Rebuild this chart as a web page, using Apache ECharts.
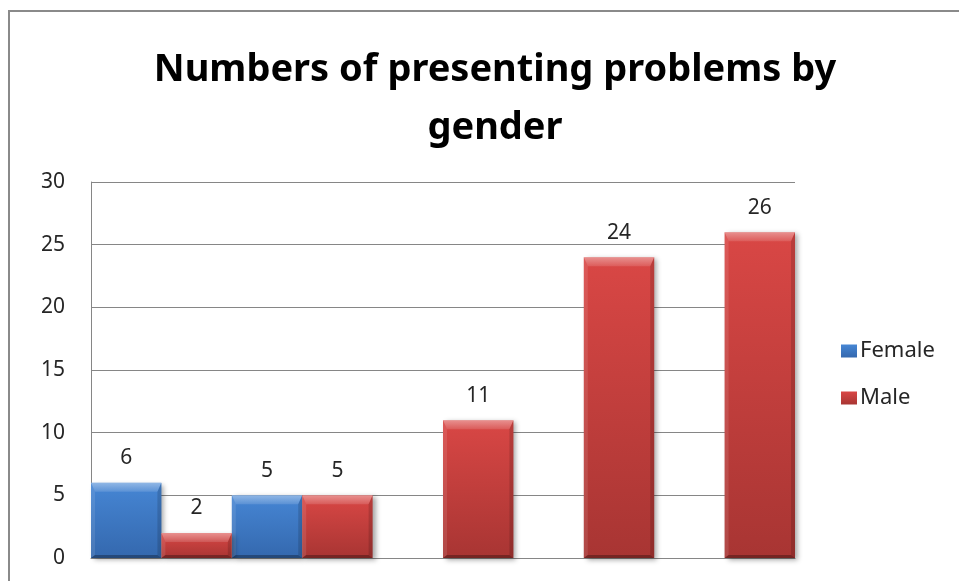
<!DOCTYPE html>
<html>
<head>
<meta charset="utf-8">
<title>Numbers of presenting problems by gender</title>
<script src="https://cdn.jsdelivr.net/npm/echarts@6/dist/echarts.min.js"></script>
<style>
  html, body { margin: 0; padding: 0; background: #ffffff; }
  #chart { width: 959px; height: 581px; }
</style>
</head>
<body>
<div id="chart"></div>
<script>
// Presenting problems, counted per group and split by gender
const categories = ['Group 1', 'Group 2', 'Group 3', 'Group 4', 'Group 5'];
const female = [6, 5, null, null, null];
const male = [2, 5, 11, 24, 26];
const seriesNames = ['Female', 'Male'];
const yTicks = { min: 0, max: 30, interval: 5 };

const FONT = '"Noto Sans", "DejaVu Sans", sans-serif';

function vGrad(top, bottom) {
  return new echarts.graphic.LinearGradient(0, 0, 0, 1, [
    { offset: 0, color: top },
    { offset: 1, color: bottom }
  ]);
}

const blue = vGrad('#4686d4', '#3468ae');
const red = vGrad('#d94745', '#a83533');

// Bevel overlay points: [category index, value, series index]
const bevelData = [];
[female, male].forEach(function (arr, s) {
  arr.forEach(function (v, i) {
    if (v != null) bevelData.push([i, v, s]);
  });
});

function renderBevel(params, api) {
  const idx = api.value(0);
  const v = api.value(1);
  const s = api.value(2);
  const top = api.coord([idx, v]);
  const base = api.coord([idx, 0]);
  const band = api.size([1, 0])[0];
  const x0 = top[0] - band / 2 + s * band / 2;
  const x1 = x0 + band / 2;
  const y0 = top[1];
  const y1 = base[1];
  const h = y1 - y0;
  const bt = Math.min(9, h / 2);
  const bs = 4;
  const bb = Math.min(3, h / 4);
  const poly = function (pts, fill) {
    return { type: 'polygon', shape: { points: pts }, style: { fill: fill }, silent: true };
  };
  const topShine = new echarts.graphic.LinearGradient(0, 0, 0, 1, [
    { offset: 0, color: 'rgba(255,255,255,0.40)' },
    { offset: 1, color: 'rgba(255,255,255,0.12)' }
  ]);
  return {
    type: 'group',
    children: [
      poly([[x0, y0], [x1, y0], [x1 - bs, y0 + bt], [x0 + bs, y0 + bt]], topShine),
      poly([[x0, y0], [x0 + bs, y0 + bt], [x0 + bs, y1 - bb], [x0, y1]], 'rgba(255,255,255,0.10)'),
      poly([[x1, y0], [x1, y1], [x1 - bs, y1 - bb], [x1 - bs, y0 + bt]], 'rgba(0,0,0,0.14)'),
      poly([[x0, y1], [x1, y1], [x1 - bs, y1 - bb], [x0 + bs, y1 - bb]], 'rgba(0,0,0,0.30)')
    ]
  };
}

const labelStyle = {
  show: true,
  position: 'top',
  distance: 14,
  color: '#262626',
  fontFamily: FONT,
  fontSize: 21
};

const shadow = {
  shadowBlur: 5,
  shadowColor: 'rgba(0,0,0,0.35)',
  shadowOffsetX: 3,
  shadowOffsetY: 2
};

const chart = echarts.init(document.getElementById('chart'), null, { renderer: 'canvas' });

chart.setOption({
  animation: false,
  backgroundColor: '#ffffff',
  title: {
    text: 'Numbers of presenting problems by\ngender',
    left: 490,
    top: 36,
    textAlign: 'center',
    textStyle: {
      fontFamily: FONT,
      fontWeight: 'bold',
      fontSize: 38,
      lineHeight: 58,
      color: '#000000'
    }
  },
  legend: {
    data: seriesNames,
    orient: 'vertical',
    left: 836,
    top: 335,
    itemWidth: 16,
    itemHeight: 13,
    itemGap: 25,
    icon: 'rect',
    textStyle: { fontFamily: FONT, fontSize: 22, color: '#262626', padding: [0, 0, 0, -2] }
  },
  grid: { left: 91, top: 182, width: 704, height: 376, containLabel: false },
  xAxis: {
    type: 'category',
    data: categories,
    axisLine: { show: true, lineStyle: { color: '#868686', width: 1 } },
    axisTick: { show: false },
    axisLabel: { show: false },
    splitLine: { show: false }
  },
  yAxis: {
    type: 'value',
    min: yTicks.min,
    max: yTicks.max,
    interval: yTicks.interval,
    axisLine: { show: true, lineStyle: { color: '#868686', width: 1 } },
    axisTick: { show: false },
    axisLabel: { margin: 26, fontFamily: FONT, fontSize: 21, color: '#262626' },
    splitLine: { show: true, lineStyle: { color: '#868686', width: 1 } }
  },
  series: [
    {
      name: 'Female',
      type: 'bar',
      data: female,
      barGap: '0%',
      barCategoryGap: '0%',
      itemStyle: Object.assign({ color: blue }, shadow),
      label: labelStyle,
      z: 2
    },
    {
      name: 'Male',
      type: 'bar',
      data: male,
      barGap: '0%',
      barCategoryGap: '0%',
      itemStyle: Object.assign({ color: red }, shadow),
      label: labelStyle,
      z: 3
    },
    {
      name: 'bevel',
      type: 'custom',
      data: bevelData,
      renderItem: renderBevel,
      silent: true,
      z: 4,
      encode: { x: 0, y: 1 }
    }
  ],
  graphic: [
    {
      type: 'rect',
      shape: { x: 9, y: 11, width: 2000, height: 2000 },
      style: { fill: 'none', stroke: '#8a8a8a', lineWidth: 2 },
      silent: true,
      z: 100
    }
  ]
});
</script>
</body>
</html>
